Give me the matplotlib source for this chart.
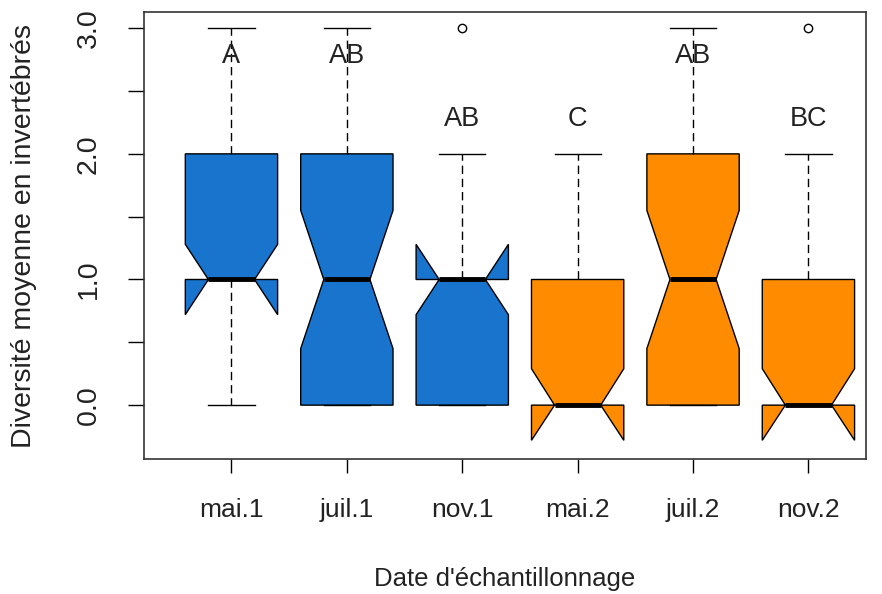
import matplotlib.pyplot as plt

plt.rcParams['font.family'] = ['Liberation Sans', 'DejaVu Sans']

# data
dates = ["mai.1", "juil.1", "nov.1", "mai.2", "juil.2", "nov.2"]
med = [1.0, 1.0, 1.0, 0.0, 1.0, 0.0]
q1 = [1.0, 0.0, 0.0, 0.0, 0.0, 0.0]
q3 = [2.0, 2.0, 1.0, 1.0, 2.0, 1.0]
whislo = [0.0, 0.0, 0.0, 0.0, 0.0, 0.0]
whishi = [3.0, 3.0, 2.0, 2.0, 3.0, 2.0]
cilo = [0.72, 0.45, 0.72, -0.28, 0.45, -0.28]
cihi = [1.28, 1.55, 1.28, 0.29, 1.55, 0.29]
outliers = [[], [], [3.0], [], [], [3.0]]
letters = ["A", "AB", "AB", "C", "AB", "BC"]
letter_y = [2.78, 2.78, 2.28, 2.28, 2.78, 2.28]
colors = ["#1874CD"] * 3 + ["#FF8C00"] * 3

stats = []
for i in range(len(dates)):
    stats.append(dict(med=med[i], q1=q1[i], q3=q3[i], whislo=whislo[i],
                      whishi=whishi[i], cilo=cilo[i], cihi=cihi[i],
                      fliers=outliers[i], label=dates[i]))

fig = plt.figure(figsize=(8.82, 5.94), dpi=100)
ax = fig.add_axes([0.163, 0.227, 0.819, 0.753])

bp = ax.bxp(stats, positions=range(1, 7), widths=0.8, shownotches=True,
            patch_artist=True,
            boxprops=dict(edgecolor="black", linewidth=1),
            medianprops=dict(color="black", linewidth=3.5, solid_capstyle="butt"),
            whiskerprops=dict(color="black", linewidth=1, linestyle=(0, (6, 3.5))),
            capprops=dict(color="black", linewidth=1),
            flierprops=dict(marker="o", markerfacecolor="none",
                            markeredgecolor="black", markersize=6))
for patch, c in zip(bp["boxes"], colors):
    patch.set_facecolor(c)

# letters above boxes
for i in range(len(dates)):
    ax.text(i + 1, letter_y[i], letters[i], ha="center", va="center",
            fontsize=19.5, color="#222222")

ax.set_xlim(0.24, 6.5)
ax.set_ylim(-0.43, 3.13)
ax.set_yticks([0, 0.5, 1, 1.5, 2, 2.5, 3])
ax.set_yticklabels(["0.0", "", "1.0", "", "2.0", "", "3.0"], rotation=90,
                   va="center", fontsize=20.5, color="#222222")
ax.set_xticks(range(1, 7))
ax.set_xticklabels(dates, fontsize=19, color="#222222")
ax.tick_params(axis="x", length=10, width=1, pad=18)
ax.tick_params(axis="y", length=11.5, width=1, pad=19)
for s in ax.spines.values():
    s.set_linewidth(1.2)
    s.set_color("#333333")

fig.text(0.027, 0.227 + 0.753 / 2, "Diversité moyenne en invertébrés",
         rotation=90, ha="center", va="center", fontsize=20.5, color="#222222")
fig.text(0.163 + 0.819 / 2, 0.025, "Date d'échantillonnage",
         ha="center", va="center", fontsize=18.5, color="#222222")

fig.savefig("out.png", dpi=100)
